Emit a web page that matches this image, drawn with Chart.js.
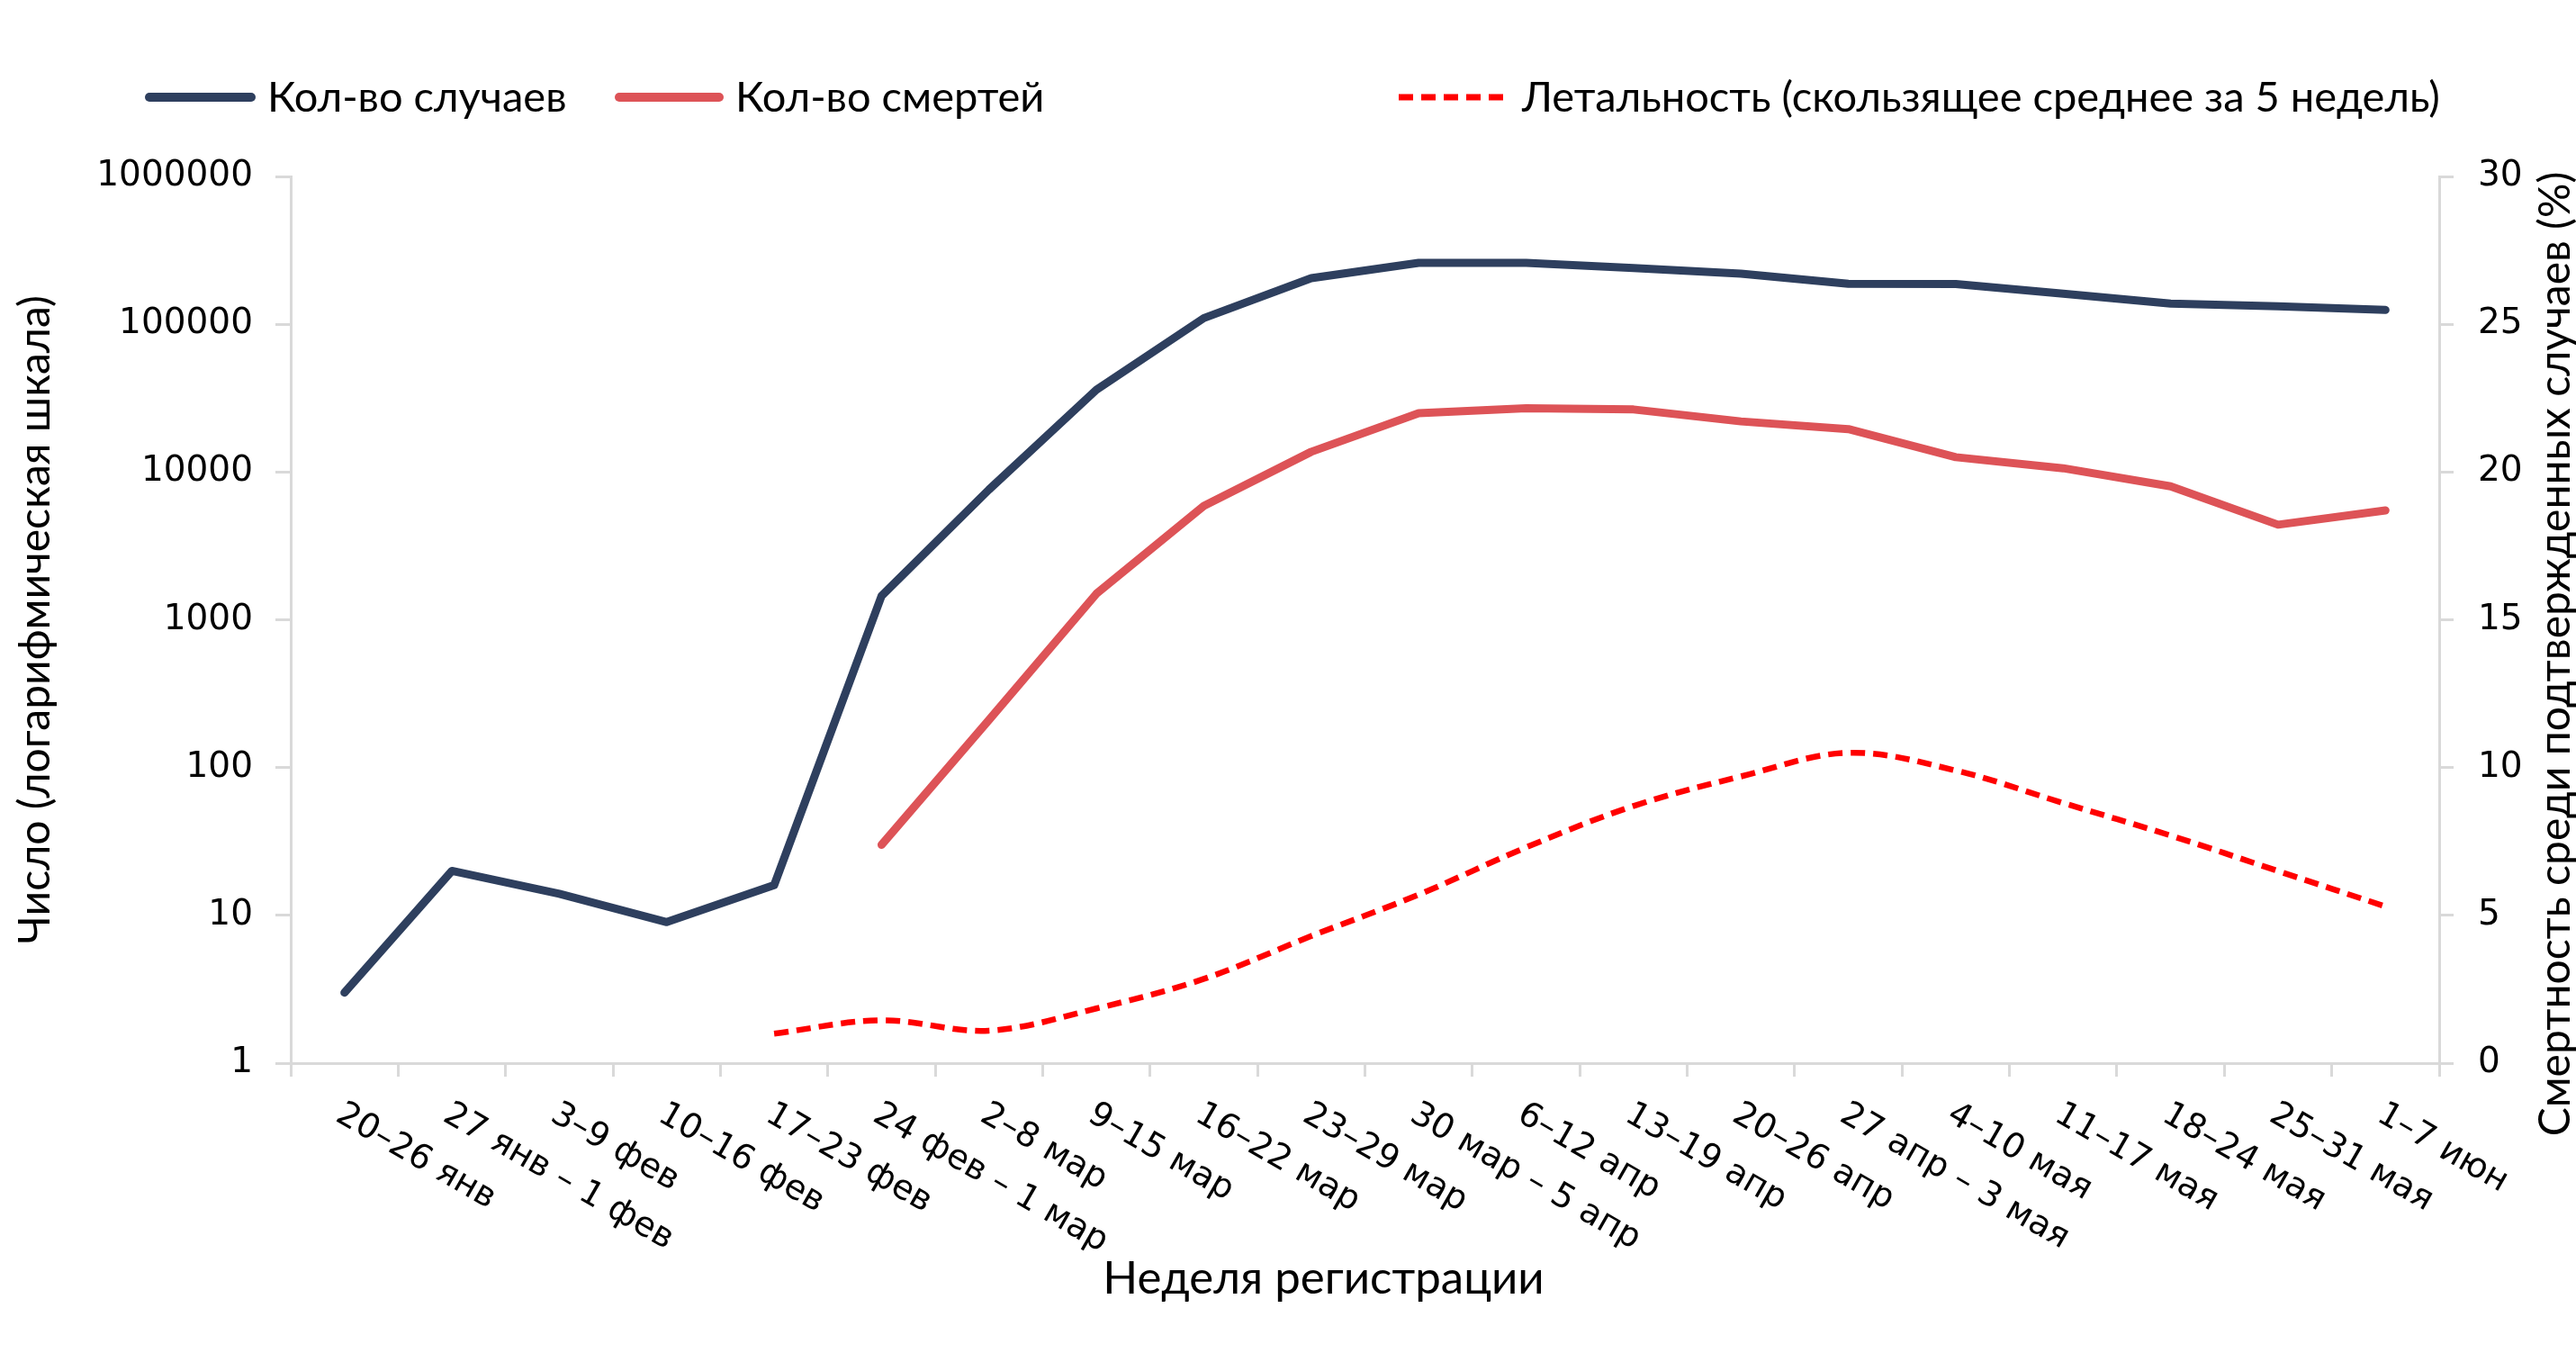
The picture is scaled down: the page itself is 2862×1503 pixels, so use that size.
<!DOCTYPE html>
<html>
<head>
<meta charset="utf-8">
<script src="https://cdn.jsdelivr.net/npm/chart.js@4.4.1/dist/chart.umd.min.js"></script>
<style>
html,body{margin:0;padding:0;background:#fff;}
#wrap{position:relative;width:2862px;height:1503px;overflow:hidden;}
#chart{position:absolute;left:0;top:0;}
.lg{position:absolute;font-family:Lato,"Noto Sans",sans-serif;font-size:47px;color:#000;height:60px;line-height:60px;white-space:nowrap;}
.lgline{position:absolute;}
</style>
</head>
<body>
<div id="wrap">
  <canvas id="chart" width="2862" height="1503"></canvas>
  <div id="legend"></div>
</div>
<script>
// ---- data ----
const weeks = ['20–26 янв','27 янв – 1 фев','3–9 фев','10–16 фев','17–23 фев','24 фев – 1 мар','2–8 мар','9–15 мар','16–22 мар','23–29 мар','30 мар – 5 апр','6–12 апр','13–19 апр','20–26 апр','27 апр – 3 мая','4–10 мая','11–17 мая','18–24 мая','25–31 мая','1–7 июн'];
const cases = [3, 20, 14, 9, 16, 1450, 7600, 36000, 110000, 205000, 260000, 260000, 240000, 220000, 188000, 187000, 161000, 138000, 132000, 125000];
const deaths = [null, null, null, null, null, 30, 210, 1500, 5900, 13700, 25000, 27000, 26500, 22000, 19500, 12600, 10600, 8000, 4400, 5500];
const lethality = [null, null, null, null, 1.0, 1.45, 1.1, 1.85, 2.85, 4.3, 5.7, 7.3, 8.7, 9.7, 10.5, 9.9, 8.8, 7.7, 6.5, 5.3];
const yLogTicks = [1, 10, 100, 1000, 10000, 100000, 1000000];
const yPctTicks = [0, 5, 10, 15, 20, 25, 30];
const seriesNames = ['Кол-во случаев', 'Кол-во смертей', 'Летальность (скользящее среднее за 5 недель)'];
const titleX = 'Неделя регистрации';
const titleYLeft = 'Число (логарифмическая шкала)';
const titleYRight = 'Смертность среди подтвержденных случаев (%)';

const colCases = '#2E3F5E';
const colDeaths = '#DD5357';
const colLeth = '#FF0000';
const axisGray = '#D9D9D9';
const tickFont = {family: '"DejaVu Sans", Verdana, sans-serif', size: 39};
const titleFont = {family: 'Lato, "Noto Sans", sans-serif', size: 48};

// ---- HTML legend ----
(function(){
  const lg = document.getElementById('legend');
  const items = [
    {lineL:161, lineW:123, textL:297, color:colCases, dash:null, w:10},
    {lineL:683, lineW:121, textL:817, color:colDeaths, dash:null, w:10},
    {lineL:1554, lineW:124, textL:1691, color:colLeth, dash:'16 9', w:7}
  ];
  items.forEach((it, i) => {
    const svgNS = 'http://www.w3.org/2000/svg';
    const svg = document.createElementNS(svgNS, 'svg');
    svg.setAttribute('width', it.lineW);
    svg.setAttribute('height', 20);
    svg.setAttribute('class', 'lgline');
    svg.style.left = it.lineL + 'px';
    svg.style.top = (108 - 10) + 'px';
    const ln = document.createElementNS(svgNS, 'line');
    const cap = it.dash ? 'butt' : 'round';
    const inset = it.dash ? 0 : it.w / 2;
    ln.setAttribute('x1', inset); ln.setAttribute('x2', it.lineW - inset);
    ln.setAttribute('y1', 10); ln.setAttribute('y2', 10);
    ln.setAttribute('stroke', it.color);
    ln.setAttribute('stroke-width', it.w);
    ln.setAttribute('stroke-linecap', cap);
    if (it.dash) ln.setAttribute('stroke-dasharray', it.dash);
    svg.appendChild(ln);
    lg.appendChild(svg);
    const t = document.createElement('div');
    t.className = 'lg';
    t.style.left = it.textL + 'px';
    t.style.top = '76px';
    t.textContent = seriesNames[i];
    lg.appendChild(t);
  });
})();

// ---- custom drawing of rotated category labels, x title and right title ----
const extraText = {
  id: 'extraText',
  afterDraw(chart) {
    const ctx = chart.ctx;
    const xs = chart.scales.x;
    const yr = chart.scales.y1;
    const ca = chart.chartArea;
    ctx.save();
    ctx.fillStyle = '#000';
    ctx.font = '38px "DejaVu Sans", Verdana, sans-serif';
    ctx.textAlign = 'left';
    ctx.textBaseline = 'top';
    weeks.forEach((w, i) => {
      const x = xs.getPixelForValue(i);
      ctx.save();
      ctx.translate(x + 3, xs.top + 38);
      ctx.rotate(Math.PI / 6);
      ctx.fillText(w, 0, 0);
      ctx.restore();
    });
    // x-axis title
    ctx.font = '51px Lato, "Noto Sans", sans-serif';
    ctx.textAlign = 'center';
    ctx.textBaseline = 'middle';
    ctx.fillText(titleX, (ca.left + ca.right) / 2 - 46, xs.top + 240);
    // right axis title (reads bottom to top)
    ctx.font = '48px Lato, "Noto Sans", sans-serif';
    const cy = (ca.top + ca.bottom) / 2 + 38;
    ctx.translate(yr.right - 22, cy);
    ctx.rotate(-Math.PI / 2);
    ctx.fillText(titleYRight, 0, 0);
    ctx.restore();
  }
};

new Chart(document.getElementById('chart'), {
  type: 'line',
  data: {
    labels: weeks,
    datasets: [
      {label: seriesNames[0], data: cases, yAxisID: 'y', borderColor: colCases, backgroundColor: colCases,
       borderWidth: 9, pointRadius: 0, tension: 0, borderCapStyle: 'round', borderJoinStyle: 'round', fill: false},
      {label: seriesNames[1], data: deaths, yAxisID: 'y', borderColor: colDeaths, backgroundColor: colDeaths,
       borderWidth: 9, pointRadius: 0, tension: 0, borderCapStyle: 'round', borderJoinStyle: 'round', fill: false},
      {label: seriesNames[2], data: lethality, yAxisID: 'y1', borderColor: colLeth, backgroundColor: colLeth,
       borderWidth: 6.5, borderDash: [16, 9], pointRadius: 0, tension: 0.35, fill: false}
    ]
  },
  options: {
    responsive: false,
    animation: false,
    devicePixelRatio: 1,
    layout: {padding: {top: 196, left: 0, right: 0, bottom: 0}},
    plugins: {legend: {display: false}, tooltip: {enabled: false}},
    scales: {
      x: {
        type: 'category',
        offset: true,
        grid: {offset: true, drawOnChartArea: false, drawTicks: true, tickLength: 15, color: axisGray, lineWidth: 3},
        border: {display: true, color: axisGray, width: 3},
        ticks: {display: false},
        title: {display: false, text: titleX},
        afterFit(s) { s.height = 322; }
      },
      y: {
        type: 'logarithmic',
        position: 'left',
        min: 1,
        max: 1000000,
        afterBuildTicks(s) { s.ticks = yLogTicks.map(v => ({value: v})); },
        ticks: {callback: v => String(v), font: tickFont, color: '#000', padding: 25, autoSkip: false},
        grid: {drawOnChartArea: false, tickLength: 17, color: axisGray, lineWidth: 3},
        border: {display: true, color: axisGray, width: 3},
        title: {display: true, text: titleYLeft, font: titleFont, color: '#000', padding: {top: 11, bottom: 0}},
        afterFit(s) { s.width = 323; }
      },
      y1: {
        type: 'linear',
        position: 'right',
        min: 0,
        max: 30,
        afterBuildTicks(s) { s.ticks = yPctTicks.map(v => ({value: v})); },
        ticks: {font: tickFont, color: '#000', padding: 27, autoSkip: false},
        grid: {drawOnChartArea: false, tickLength: 16, color: axisGray, lineWidth: 3},
        border: {display: true, color: axisGray, width: 3},
        afterFit(s) { s.width = 152; }
      }
    }
  },
  plugins: [extraText]
});
</script>
</body>
</html>
